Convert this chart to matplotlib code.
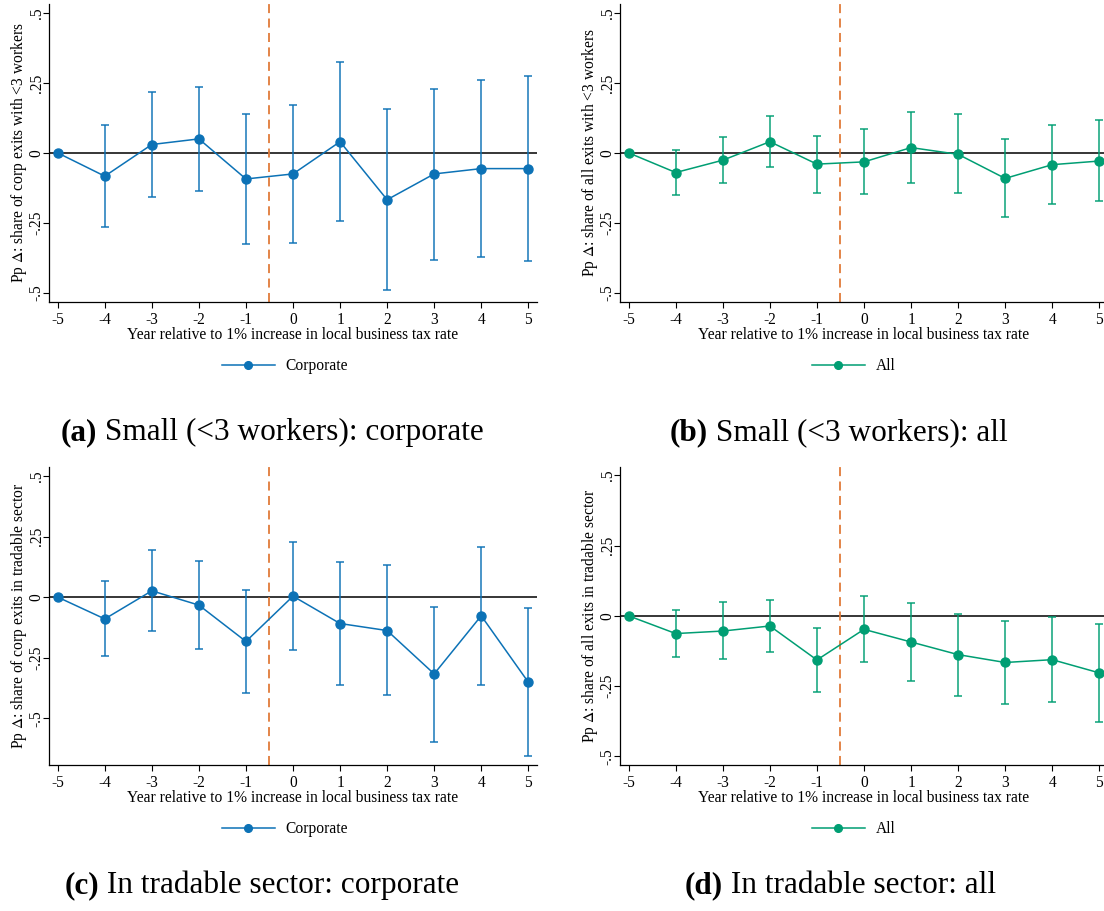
import matplotlib.pyplot as plt

plt.rcParams['font.family'] = ['Liberation Serif', 'DejaVu Serif']
plt.rcParams['mathtext.fontset'] = 'stix'

years = [-5, -4, -3, -2, -1, 0, 1, 2, 3, 4, 5]

# (a) small firms, corporate exits
small_corp = [0, -0.083, 0.030, 0.050, -0.093, -0.075, 0.040, -0.167, -0.075, -0.056, -0.056]
small_corp_hi = [0, 0.100, 0.216, 0.234, 0.140, 0.170, 0.325, 0.156, 0.228, 0.261, 0.274]
small_corp_lo = [0, -0.266, -0.157, -0.135, -0.325, -0.321, -0.242, -0.489, -0.381, -0.373, -0.384]

# (b) small firms, all exits
small_all = [0, -0.070, -0.026, 0.040, -0.040, -0.032, 0.019, -0.005, -0.091, -0.042, -0.029]
small_all_hi = [0, 0.011, 0.058, 0.132, 0.062, 0.084, 0.146, 0.138, 0.048, 0.100, 0.116]
small_all_lo = [0, -0.151, -0.109, -0.052, -0.143, -0.146, -0.108, -0.144, -0.229, -0.183, -0.172]

# (c) tradable sector, corporate exits
trad_corp = [0, -0.090, 0.026, -0.033, -0.183, 0.004, -0.109, -0.138, -0.317, -0.077, -0.351]
trad_corp_hi = [0, 0.066, 0.193, 0.149, 0.028, 0.227, 0.143, 0.134, -0.039, 0.209, -0.044]
trad_corp_lo = [0, -0.244, -0.140, -0.215, -0.394, -0.218, -0.362, -0.406, -0.598, -0.362, -0.656]

# (d) tradable sector, all exits
trad_all = [0, -0.063, -0.054, -0.036, -0.157, -0.048, -0.093, -0.138, -0.166, -0.156, -0.203]
trad_all_hi = [0, 0.020, 0.048, 0.058, -0.044, 0.070, 0.045, 0.008, -0.020, -0.005, -0.029]
trad_all_lo = [0, -0.146, -0.152, -0.130, -0.270, -0.165, -0.231, -0.285, -0.315, -0.307, -0.377]

BLUE = '#0C72B6'
GREEN = '#009E73'
ORANGE = '#E07B39'

xlab = 'Year relative to 1% increase in local business tax rate'
FS = 11.2

panels = [
    dict(est=small_corp, hi=small_corp_hi, lo=small_corp_lo, color=BLUE, name='Corporate',
         ylabel=r'Pp $\Delta$: share of corp exits with <3 workers', ylim=(-0.532, 0.531),
         rect=[0.0444, 0.6685, 0.4420, 0.3270],
         caption=('(a)', ' Small (<3 workers): corporate'), cap_x=0.0875, cap_y=0.517, leg=(0.258, 0.598)),
    dict(est=small_all, hi=small_all_hi, lo=small_all_lo, color=GREEN, name='All',
         ylabel=r'Pp $\Delta$: share of all exits with <3 workers', ylim=(-0.532, 0.531),
         rect=[0.5616, 0.6685, 0.4420, 0.3270],
         caption=('(b)', ' Small (<3 workers): all'), cap_x=0.6415, cap_y=0.517, leg=(0.773, 0.598)),
    dict(est=trad_corp, hi=trad_corp_hi, lo=trad_corp_lo, color=BLUE, name='Corporate',
         ylabel=r'Pp $\Delta$: share of corp exits in tradable sector', ylim=(-0.693, 0.537),
         rect=[0.0444, 0.1603, 0.4420, 0.3270],
         caption=('(c)', ' In tradable sector: corporate'), cap_x=0.0895, cap_y=0.020, leg=(0.258, 0.090)),
    dict(est=trad_all, hi=trad_all_hi, lo=trad_all_lo, color=GREEN, name='All',
         ylabel=r'Pp $\Delta$: share of all exits in tradable sector', ylim=(-0.531, 0.530),
         rect=[0.5616, 0.1603, 0.4420, 0.3270],
         caption=('(d)', ' In tradable sector: all'), cap_x=0.6545, cap_y=0.020, leg=(0.773, 0.090)),
]

fig = plt.figure(figsize=(11.04, 9.11), dpi=100)

for p in panels:
    ax = fig.add_axes(p['rect'])
    err = [[e - l for e, l in zip(p['est'], p['lo'])],
           [h - e for e, h in zip(p['est'], p['hi'])]]
    ax.errorbar(years, p['est'], yerr=err, fmt='none', ecolor=p['color'], alpha=0.75,
                elinewidth=1.4, capsize=3.2, capthick=1.4, zorder=2)
    ax.axhline(0, color='black', lw=1.1, zorder=1)
    ax.axvline(-0.5, color=ORANGE, lw=1.3, ls=(0, (5, 3)), zorder=1)
    line, = ax.plot(years, p['est'], color=p['color'], lw=1.1, marker='o', ms=6.5, zorder=3)

    ax.set_xlim(-5.185, 5.185)
    ax.set_ylim(*p['ylim'])
    ax.set_xticks(years)
    ax.set_xticklabels([str(y) for y in years])
    ax.set_yticks([-0.5, -0.25, 0, 0.25, 0.5])
    ax.set_yticklabels(['-.5', '-.25', '0', '.25', '.5'], rotation=90, va='center')
    ax.tick_params(labelsize=FS, length=4.5, width=0.8)
    ax.tick_params(axis='x', pad=3)
    ax.tick_params(axis='y', pad=-1.5)
    for s in ['top', 'right']:
        ax.spines[s].set_visible(False)
    for s in ['left', 'bottom']:
        ax.spines[s].set_linewidth(0.9)
    ax.set_xlabel(xlab, fontsize=FS, labelpad=-1)
    ax.set_ylabel(p['ylabel'], fontsize=FS)
    ax.yaxis.set_label_coords(-0.042, 0.5)

    fig.legend([line], [p['name']], loc='center', bbox_to_anchor=p['leg'], frameon=False,
               fontsize=FS, handlelength=3.4, handletextpad=0.7, markerscale=0.85)

    tag, rest = p['caption']
    fig.text(p['cap_x'], p['cap_y'], tag, fontsize=22.5, fontweight='bold', ha='right', va='baseline')
    fig.text(p['cap_x'], p['cap_y'], rest, fontsize=22.5, ha='left', va='baseline')

fig.savefig('out.png', dpi=100)
